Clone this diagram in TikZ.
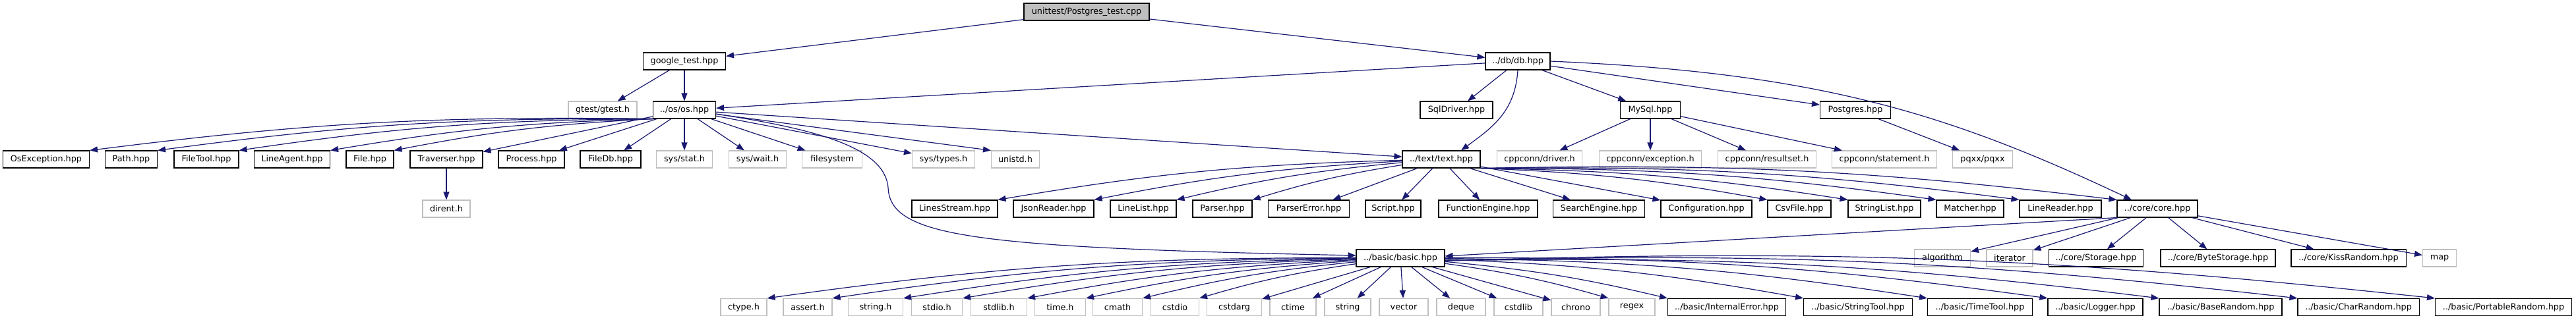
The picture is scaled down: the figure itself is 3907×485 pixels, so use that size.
\documentclass[tikz,border=0pt]{standalone}
\usepackage{fontspec}
\setmainfont{DejaVu Sans}
\usetikzlibrary{arrows.meta,calc}
\definecolor{edgeblue}{HTML}{191970}
\definecolor{boxgray}{HTML}{BFBFBF}
\definecolor{rootfill}{HTML}{BFBFBF}
\newcommand{\nfs}{\fontsize{12.8}{15}\selectfont}
\begin{document}
\begin{tikzpicture}[x=1pt,y=-1pt,
  nd/.style={draw=black, line width=1.1pt, fill=white, minimum height=26pt, inner xsep=1pt, inner ysep=0pt, font=\nfs, text=black},
  sys/.style={nd, draw=boxgray},
  rootnd/.style={nd, fill=rootfill},
  e/.style={draw=edgeblue, line width=1.2pt, -{Triangle[length=12pt,width=9pt]}},
  bl/.style={bend right=4},
  br/.style={bend left=4}]
\useasboundingbox (0,0) rectangle (3907,485);
% row 1
\node[rootnd, minimum width=190pt] (root) at (1648,18) {unittest/Postgres\_test.cpp};
% row 2
\node[nd, minimum width=125pt] (gt) at (1038,93) {google\_test.hpp};
\node[nd, minimum width=98pt] (db) at (2302,93) {../db/db.hpp};
% row 3
\node[sys, minimum width=104pt] (gtest) at (914,167) {gtest/gtest.h};
\node[nd, minimum width=95pt] (os) at (1038,167) {../os/os.hpp};
\node[nd, minimum width=110pt] (sqld) at (2209,167) {SqlDriver.hpp};
\node[nd, minimum width=91pt] (mysql) at (2503,167) {MySql.hpp};
\node[nd, minimum width=107pt] (pg) at (2814,167) {Postgres.hpp};
% row 4
\node[nd, minimum width=131pt] (osexc) at (70,242) {OsException.hpp};
\node[nd, minimum width=79pt] (path) at (199,242) {Path.hpp};
\node[nd, minimum width=98pt] (filetool) at (313,242) {FileTool.hpp};
\node[nd, minimum width=115pt] (lineagent) at (443,242) {LineAgent.hpp};
\node[nd, minimum width=72pt] (file) at (561,242) {File.hpp};
\node[nd, minimum width=110pt] (trav) at (677,242) {Traverser.hpp};
\node[nd, minimum width=100pt] (proc) at (806,242) {Process.hpp};
\node[nd, minimum width=92pt] (filedb) at (926,242) {FileDb.hpp};
\node[sys, minimum width=85pt] (sysstat) at (1038,242) {sys/stat.h};
\node[sys, minimum width=87pt] (syswait) at (1149,242) {sys/wait.h};
\node[sys, minimum width=91pt] (fs) at (1262,242) {filesystem};
\node[sys, minimum width=95pt] (systypes) at (1431,242) {sys/types.h};
\node[sys, minimum width=73pt] (unistd) at (1540,242) {unistd.h};
\node[nd, minimum width=118pt] (text) at (2186,242) {../text/text.hpp};
\node[sys, minimum width=129pt] (cdriver) at (2335,242) {cppconn/driver.h};
\node[sys, minimum width=155pt] (cexc) at (2503,242) {cppconn/exception.h};
\node[sys, minimum width=149pt] (cres) at (2680,242) {cppconn/resultset.h};
\node[sys, minimum width=159pt] (cstmt) at (2858,242) {cppconn/statement.h};
\node[sys, minimum width=91pt] (pqxx) at (3007,242) {pqxx/pqxx};
% row 5
\node[sys, minimum width=72pt] (dirent) at (677,317) {dirent.h};
\node[nd, minimum width=130pt] (lstream) at (1448,317) {LinesStream.hpp};
\node[nd, minimum width=122pt] (json) at (1598,317) {JsonReader.hpp};
\node[nd, minimum width=100pt] (llist) at (1734,317) {LineList.hpp};
\node[nd, minimum width=90pt] (parser) at (1854,317) {Parser.hpp};
\node[nd, minimum width=123pt] (perr) at (1985,317) {ParserError.hpp};
\node[nd, minimum width=84pt] (script) at (2113,317) {Script.hpp};
\node[nd, minimum width=150pt] (feng) at (2257,317) {FunctionEngine.hpp};
\node[nd, minimum width=139pt] (seng) at (2425,317) {SearchEngine.hpp};
\node[nd, minimum width=138pt] (conf) at (2588,317) {Configuration.hpp};
\node[nd, minimum width=96pt] (csv) at (2729,317) {CsvFile.hpp};
\node[nd, minimum width=110pt] (slist) at (2858,317) {StringList.hpp};
\node[nd, minimum width=102pt] (matcher) at (2988,317) {Matcher.hpp};
\node[nd, minimum width=124pt] (lreader) at (3125,317) {LineReader.hpp};
\node[nd, minimum width=122pt] (core) at (3272,317) {../core/core.hpp};
% row 6
\node[nd, minimum width=134pt] (basic) at (2124,392) {../basic/basic.hpp};
\node[sys, minimum width=85pt] (algo) at (2946,392) {algorithm};
\node[sys, minimum width=70pt] (iter) at (3048,392) {iterator};
\node[nd, minimum width=143pt] (storage) at (3179,392) {../core/Storage.hpp};
\node[nd, minimum width=174pt] (bstorage) at (3364,392) {../core/ByteStorage.hpp};
\node[nd, minimum width=174pt] (kiss) at (3562,392) {../core/KissRandom.hpp};
\node[sys, minimum width=51pt] (map) at (3700,392) {map};
% row 7
\node[sys, minimum width=70pt] (ctype) at (1128,466.5) {ctype.h};
\node[sys, minimum width=74pt] (assert) at (1225,466.5) {assert.h};
\node[sys, minimum width=83pt] (stringh) at (1328,466.5) {string.h};
\node[sys, minimum width=77pt] (stdio) at (1421,466.5) {stdio.h};
\node[sys, minimum width=85pt] (stdlib) at (1515,466.5) {stdlib.h};
\node[sys, minimum width=77pt] (timeh) at (1608,466.5) {time.h};
\node[sys, minimum width=75pt] (cmath) at (1695,466.5) {cmath};
\node[sys, minimum width=73pt] (cstdio) at (1782,466.5) {cstdio};
\node[sys, minimum width=83pt] (cstdarg) at (1872,466.5) {cstdarg};
\node[sys, minimum width=70pt] (ctime) at (1961,466.5) {ctime};
\node[sys, minimum width=70pt] (string) at (2044,466.5) {string};
\node[sys, minimum width=74pt] (vector) at (2129,466.5) {vector};
\node[sys, minimum width=74pt] (deque) at (2216,466.5) {deque};
\node[sys, minimum width=74pt] (cstdlib) at (2303,466.5) {cstdlib};
\node[sys, minimum width=74pt] (chrono) at (2390,466.5) {chrono};
\node[sys, minimum width=70pt] (regex) at (2475,466.5) {regex};
\node[nd, minimum width=179pt] (interr) at (2619,466.5) {../basic/InternalError.hpp};
\node[nd, minimum width=165pt] (strtool) at (2818,466.5) {../basic/StringTool.hpp};
\node[nd, minimum width=159pt] (timetool) at (3003,466.5) {../basic/TimeTool.hpp};
\node[nd, minimum width=144pt] (logger) at (3178,466.5) {../basic/Logger.hpp};
\node[nd, minimum width=186pt] (baser) at (3368,466.5) {../basic/BaseRandom.hpp};
\node[nd, minimum width=184pt] (charr) at (3577,466.5) {../basic/CharRandom.hpp};
\node[nd, minimum width=207pt] (portr) at (3797,466.5) {../basic/PortableRandom.hpp};
% edges
\draw[e] (root) -- (gt);
\draw[e] (root) -- (db);
\draw[e] (gt) -- (gtest);
\draw[e] (gt) -- (os);
\draw[e] (db) -- (os);
\draw[e] (db) -- (sqld);
\draw[e] (db.south) .. controls +(-4,64) and +(46,-34) .. ($(text.north)+(30,0)$);
\draw[e] (db) -- (mysql);
\draw[e] (db) -- (pg);
\draw[e] (db.east) .. controls +(400,17) and +(-283,-134) .. ($(core.north)+(-39,0)$);
\draw[e] (mysql) -- (cdriver);
\draw[e] (mysql) -- (cexc);
\draw[e] (mysql) -- (cres);
\draw[e] (mysql) -- (cstmt);
\draw[e] (pg) -- (pqxx);
% os fan
\draw[e] (os.south west) to[bl] (osexc.north east);
\draw[e] (os.south west) to[bl] (path.north east);
\draw[e] (os.south west) to[bl] (filetool.north east);
\draw[e] (os.south west) to[bl] (lineagent.north east);
\draw[e] (os.south west) to[bl] (file.north east);
\draw[e] (os) -- (trav);
\draw[e] (os) -- (proc);
\draw[e] (os) -- (filedb);
\draw[e] (os) -- (sysstat);
\draw[e] (os) -- (syswait);
\draw[e] (os) -- (fs);
\draw[e] (os) -- (systypes);
\draw[e] (os) -- (unistd.north west);
\draw[e] (os) -- (text);
\coordinate (ob) at (1347,285);
\draw[e] ($(os.east)+(0,6)$) .. controls +(144,22) and +(-5,-63) .. (ob) .. controls +(3,75) and +(-580,-12) .. ($(basic.west)+(0,-4)$);
\draw[e] (trav) -- (dirent);
% text fan
\draw[e] (text) to[bl] (lstream.north east);
\draw[e] (text) to[bl] (json.north east);
\draw[e] (text) to[bl] (llist.north east);
\draw[e] (text) to[bl] (parser.north east);
\draw[e] (text) -- (perr);
\draw[e] (text) -- (script);
\draw[e] (text) -- (feng);
\draw[e] (text) -- (seng);
\draw[e] (text) -- (conf);
\draw[e] (text.south east) to[br] (csv.north west);
\draw[e] (text.south east) to[br] (slist.north west);
\draw[e] (text.south east) to[br] (matcher.north west);
\draw[e] (text.south east) to[br] (lreader.north west);
\draw[e] (text.south east) to[br] (core.north west);
% core fan
\draw[e] (core) -- (algo);
\draw[e] (core) -- (iter);
\draw[e] (core) -- (storage);
\draw[e] (core) -- (bstorage);
\draw[e] (core) -- (kiss);
\draw[e] (core) -- (map);
\draw[e] (core.south west) -- ($(basic.east)+(0,-3)$);
% basic fan
\draw[e] (basic) to[bl] (ctype.north east);
\draw[e] (basic) to[bl] (assert.north east);
\draw[e] (basic) to[bl] (stringh.north east);
\draw[e] (basic) to[bl] (stdio.north east);
\draw[e] (basic) to[bl] (stdlib.north east);
\draw[e] (basic) to[bl] (timeh.north east);
\draw[e] (basic) to[bl] (cmath.north east);
\draw[e] (basic) to[bl] (cstdio.north east);
\draw[e] (basic) -- (cstdarg);
\draw[e] (basic) -- (ctime);
\draw[e] (basic) -- (string);
\draw[e] (basic) -- (vector);
\draw[e] (basic) -- (deque);
\draw[e] (basic) -- (cstdlib);
\draw[e] (basic) -- (chrono);
\draw[e] (basic) to[br] (regex.north west);
\draw[e] (basic) to[br] (interr.north west);
\draw[e] (basic) to[br] (strtool.north west);
\draw[e] (basic) to[br] (timetool.north west);
\draw[e] (basic) to[br] (logger.north west);
\draw[e] ($(basic.east)+(0,4)$) .. controls +(423,-7) and +(-423,-52) .. (baser.north west);
\draw[e] ($(basic.east)+(0,4)$) .. controls +(505,-13) and +(-505,-57) .. (charr.north west);
\draw[e] ($(basic.east)+(0,4)$) .. controls +(586,-18) and +(-586,-63) .. (portr.north west);
\end{tikzpicture}
\end{document}
